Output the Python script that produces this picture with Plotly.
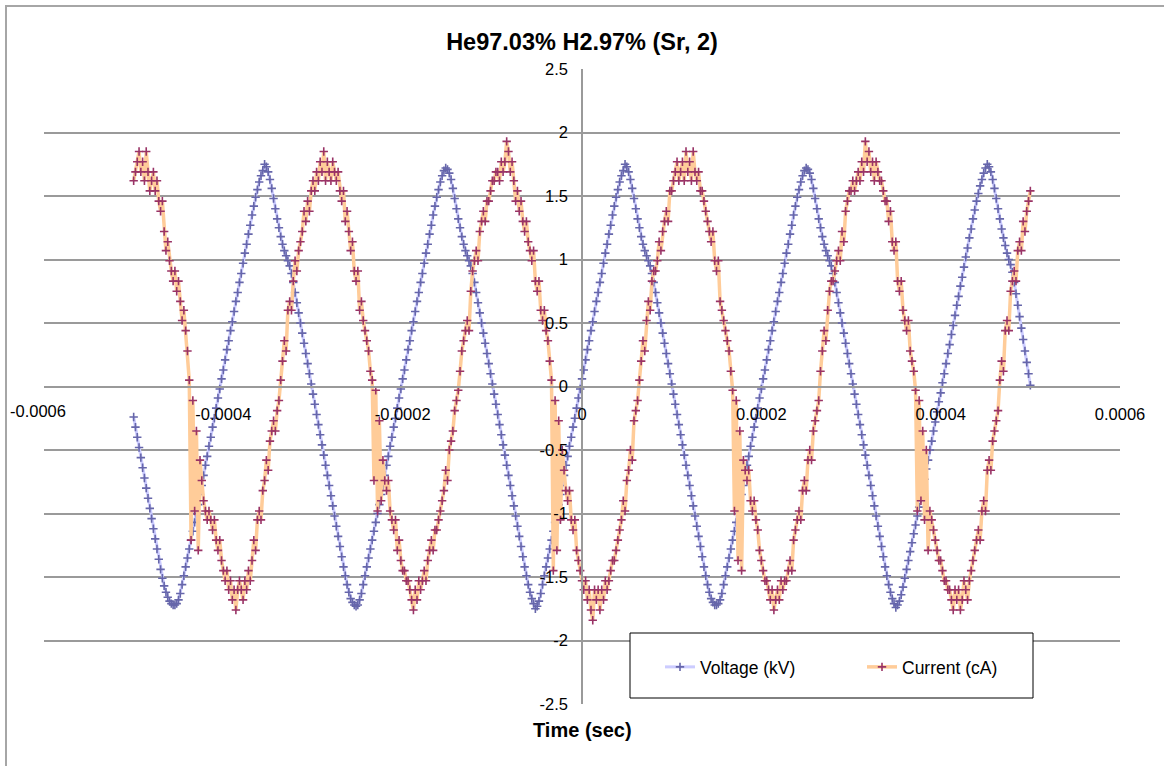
import plotly.graph_objects as go

# Sampling grid: 2 microsecond steps from -0.5 ms to +0.5 ms
t_start_s = -0.0005
t_step_s = 2e-6
n_samples = 501
time_s = [round(t_start_s + i * t_step_s, 9) for i in range(n_samples)]

# Discharge voltage (kV), one value per sample
voltage_kv = [
    # -500 .. -454 us
    -0.24, -0.32, -0.40, -0.48, -0.56, -0.64, -0.72, -0.80, -0.88, -0.96,
    -1.04, -1.12, -1.20, -1.28, -1.36, -1.44, -1.51, -1.57, -1.62, -1.66,
    -1.69, -1.71, -1.72, -1.72,
    # -452 .. -354 us
    -1.71, -1.68, -1.63, -1.56, -1.49, -1.42, -1.35, -1.28, -1.21, -1.14,
    -1.07, -1.00, -0.93, -0.85, -0.78, -0.70, -0.62, -0.55, -0.47, -0.40,
    -0.32, -0.25, -0.17, -0.09, -0.02, 0.06, 0.13, 0.21, 0.29, 0.36,
    0.44, 0.51, 0.59, 0.67, 0.74, 0.82, 0.89, 0.97, 1.05, 1.12,
    1.20, 1.27, 1.35, 1.42, 1.49, 1.55, 1.61, 1.66, 1.70, 1.75,
    # -352 .. -252 us
    1.73, 1.69, 1.63, 1.56, 1.48, 1.40, 1.32, 1.25, 1.18, 1.12,
    1.07, 1.03, 0.99, 0.95, 0.89, 0.82, 0.74, 0.66, 0.58, 0.50,
    0.42, 0.34, 0.26, 0.18, 0.10, 0.02, -0.06, -0.14, -0.22, -0.30,
    -0.38, -0.46, -0.54, -0.62, -0.70, -0.78, -0.86, -0.94, -1.02, -1.10,
    -1.18, -1.26, -1.34, -1.42, -1.49, -1.56, -1.62, -1.67, -1.70, -1.72,
    -1.73,
    # -250 .. -152 us
    -1.72, -1.68, -1.63, -1.56, -1.49, -1.42, -1.35, -1.28, -1.21, -1.14,
    -1.07, -1.00, -0.93, -0.85, -0.78, -0.70, -0.62, -0.55, -0.47, -0.40,
    -0.32, -0.25, -0.17, -0.09, -0.02, 0.06, 0.13, 0.21, 0.29, 0.36,
    0.44, 0.51, 0.59, 0.67, 0.74, 0.82, 0.89, 0.97, 1.05, 1.12,
    1.20, 1.27, 1.35, 1.42, 1.49, 1.55, 1.61, 1.66, 1.70, 1.72,
    # -150 .. -52 us
    1.71, 1.68, 1.63, 1.56, 1.48, 1.40, 1.32, 1.25, 1.18, 1.12,
    1.07, 1.03, 0.99, 0.95, 0.89, 0.82, 0.74, 0.66, 0.58, 0.50,
    0.42, 0.34, 0.26, 0.18, 0.10, 0.02, -0.06, -0.14, -0.22, -0.30,
    -0.38, -0.46, -0.54, -0.62, -0.70, -0.78, -0.86, -0.94, -1.02, -1.10,
    -1.18, -1.26, -1.34, -1.42, -1.49, -1.56, -1.62, -1.67, -1.71, -1.75,
    # -50 .. 48 us
    -1.73, -1.69, -1.63, -1.56, -1.49, -1.42, -1.35, -1.28, -1.21, -1.14,
    -1.07, -1.00, -0.93, -0.85, -0.78, -0.70, -0.62, -0.55, -0.47, -0.40,
    -0.32, -0.25, -0.17, -0.09, -0.02, 0.06, 0.13, 0.21, 0.29, 0.36,
    0.44, 0.51, 0.59, 0.67, 0.74, 0.82, 0.89, 0.97, 1.05, 1.12,
    1.20, 1.27, 1.35, 1.42, 1.49, 1.55, 1.61, 1.66, 1.70, 1.75,
    # 50 .. 150 us
    1.73, 1.69, 1.63, 1.56, 1.48, 1.40, 1.32, 1.25, 1.18, 1.12,
    1.07, 1.03, 0.99, 0.95, 0.89, 0.82, 0.74, 0.66, 0.58, 0.50,
    0.42, 0.34, 0.26, 0.18, 0.10, 0.02, -0.06, -0.14, -0.22, -0.30,
    -0.38, -0.46, -0.54, -0.62, -0.70, -0.78, -0.86, -0.94, -1.02, -1.10,
    -1.18, -1.26, -1.34, -1.42, -1.49, -1.56, -1.62, -1.67, -1.70, -1.72,
    -1.72,
    # 152 .. 250 us
    -1.71, -1.68, -1.63, -1.56, -1.49, -1.42, -1.35, -1.28, -1.21, -1.14,
    -1.07, -1.00, -0.93, -0.85, -0.78, -0.70, -0.62, -0.55, -0.47, -0.40,
    -0.32, -0.25, -0.17, -0.09, -0.02, 0.06, 0.13, 0.21, 0.29, 0.36,
    0.44, 0.51, 0.59, 0.67, 0.74, 0.82, 0.89, 0.97, 1.05, 1.12,
    1.20, 1.27, 1.35, 1.42, 1.49, 1.55, 1.61, 1.66, 1.70, 1.72,
    # 252 .. 350 us
    1.71, 1.68, 1.63, 1.56, 1.48, 1.40, 1.32, 1.25, 1.18, 1.12,
    1.07, 1.03, 0.99, 0.95, 0.89, 0.82, 0.74, 0.66, 0.58, 0.50,
    0.42, 0.34, 0.26, 0.18, 0.10, 0.02, -0.06, -0.14, -0.22, -0.30,
    -0.38, -0.46, -0.54, -0.62, -0.70, -0.78, -0.86, -0.94, -1.02, -1.10,
    -1.18, -1.26, -1.34, -1.42, -1.49, -1.56, -1.62, -1.67, -1.71, -1.74,
    # 352 .. 452 us
    -1.72, -1.69, -1.64, -1.58, -1.51, -1.44, -1.37, -1.30, -1.23, -1.16,
    -1.09, -1.02, -0.95, -0.88, -0.80, -0.73, -0.65, -0.58, -0.50, -0.43,
    -0.35, -0.28, -0.20, -0.12, -0.05, 0.03, 0.10, 0.18, 0.26, 0.33,
    0.41, 0.48, 0.56, 0.64, 0.71, 0.79, 0.86, 0.94, 1.02, 1.09,
    1.17, 1.24, 1.32, 1.39, 1.46, 1.52, 1.58, 1.63, 1.68, 1.72,
    1.75,
    # 454 .. 500 us
    1.73, 1.69, 1.63, 1.56, 1.48, 1.40, 1.32, 1.24, 1.17, 1.11,
    1.05, 1.00, 0.96, 0.90, 0.82, 0.73, 0.64, 0.55, 0.46, 0.37,
    0.28, 0.19, 0.10, 0.01,
]

# Discharge current (cA), one value per sample (rows of 20 us)
current_ca = [
    1.62, 1.69, 1.77, 1.85, 1.69, 1.77, 1.62, 1.85, 1.69, 1.54,   # -500
    1.62, 1.69, 1.54, 1.62, 1.46, 1.38, 1.46, 1.22, 1.07, 1.14,   # -480
    0.99, 0.91, 0.83, 0.91, 0.75, 0.83, 0.67, 0.52, 0.60, 0.44,   # -460
    0.28, 0.05, -1.21, -0.11, -0.98, -0.35, -1.29, -0.58, -0.74, -0.90,  # -440
    -0.98, -1.05, -0.98, -1.05, -1.13, -1.05, -1.21, -1.29, -1.21, -1.37,  # -420
    -1.45, -1.53, -1.45, -1.60, -1.53, -1.68, -1.60, -1.76, -1.60, -1.53,  # -400
    -1.60, -1.68, -1.53, -1.60, -1.45, -1.53, -1.37, -1.21, -1.29, -1.05,  # -380
    -0.98, -1.05, -0.82, -0.74, -0.58, -0.66, -0.43, -0.35, -0.27, -0.35,  # -360
    -0.19, -0.11, 0.05, 0.20, 0.36, 0.28, 0.60, 0.67, 0.60, 0.83,  # -340
    0.99, 0.91, 1.07, 1.14, 1.22, 1.38, 1.30, 1.46, 1.38, 1.54,   # -320
    1.62, 1.54, 1.69, 1.62, 1.77, 1.69, 1.85, 1.62, 1.77, 1.69,   # -300
    1.62, 1.77, 1.69, 1.62, 1.69, 1.54, 1.46, 1.54, 1.30, 1.38,   # -280
    1.22, 1.07, 1.14, 0.91, 0.83, 0.91, 0.60, 0.67, 0.52, 0.44,   # -260
    0.36, 0.28, 0.12, 0.05, -0.74, -0.03, -0.98, -0.27, -0.90, -0.58,  # -240
    -0.74, -0.82, -0.74, -0.98, -1.05, -1.13, -1.05, -1.29, -1.21, -1.37,  # -220
    -1.45, -1.45, -1.53, -1.53, -1.60, -1.68, -1.76, -1.60, -1.68, -1.53,  # -200
    -1.60, -1.53, -1.45, -1.53, -1.37, -1.29, -1.21, -1.29, -1.13, -1.13,  # -180
    -1.05, -0.98, -0.90, -0.82, -0.66, -0.74, -0.50, -0.43, -0.35, -0.19,  # -160
    -0.11, -0.03, 0.12, 0.28, 0.36, 0.44, 0.52, 0.44, 0.75, 0.91,  # -140
    0.99, 1.07, 0.99, 1.22, 1.30, 1.38, 1.30, 1.46, 1.46, 1.54,   # -120
    1.62, 1.62, 1.69, 1.69, 1.62, 1.77, 1.69, 1.77, 1.93, 1.85,   # -100
    1.69, 1.77, 1.62, 1.46, 1.54, 1.38, 1.46, 1.30, 1.22, 1.30,   # -80
    1.14, 1.07, 0.99, 1.07, 0.83, 0.75, 0.83, 0.60, 0.52, 0.60,   # -60
    0.44, 0.36, 0.20, 0.05, -1.45, -0.11, -1.29, -0.27, -1.05, -0.50,  # -40
    -0.66, -0.82, -0.90, -0.82, -1.05, -1.13, -1.05, -1.29, -1.37, -1.45,  # -20
    -1.53, -1.60, -1.53, -1.68, -1.60, -1.76, -1.84, -1.60, -1.68, -1.60,  # 0
    -1.76, -1.60, -1.68, -1.53, -1.60, -1.53, -1.45, -1.37, -1.37, -1.29,  # 20
    -1.21, -1.13, -1.05, -0.90, -0.98, -0.74, -0.66, -0.50, -0.58, -0.27,  # 40
    -0.19, -0.11, 0.05, 0.20, 0.36, 0.28, 0.52, 0.67, 0.60, 0.83,  # 60
    0.91, 0.91, 0.99, 1.14, 1.07, 1.22, 1.30, 1.38, 1.30, 1.54,   # 80
    1.54, 1.62, 1.69, 1.77, 1.62, 1.69, 1.77, 1.62, 1.85, 1.69,   # 100
    1.77, 1.62, 1.85, 1.69, 1.62, 1.69, 1.54, 1.54, 1.46, 1.38,   # 120
    1.30, 1.22, 1.14, 1.22, 0.99, 0.91, 0.99, 0.67, 0.60, 0.52,   # 140
    0.44, 0.36, 0.28, 0.12, -0.03, -0.98, -0.11, -1.37, -0.35, -1.45,  # 160
    -0.58, -0.66, -0.74, -0.66, -0.90, -0.98, -0.90, -1.05, -1.13, -1.29,  # 180
    -1.37, -1.45, -1.53, -1.53, -1.60, -1.68, -1.60, -1.76, -1.68, -1.60,  # 200
    -1.68, -1.53, -1.60, -1.53, -1.53, -1.45, -1.37, -1.45, -1.21, -1.13,  # 220
    -1.05, -0.98, -1.05, -0.82, -0.74, -0.82, -0.58, -0.50, -0.58, -0.35,  # 240
    -0.27, -0.19, -0.11, 0.12, 0.28, 0.44, 0.36, 0.60, 0.75, 0.83,  # 260
    0.83, 0.91, 0.99, 1.07, 0.99, 1.22, 1.14, 1.38, 1.46, 1.54,   # 280
    1.54, 1.62, 1.54, 1.62, 1.69, 1.62, 1.77, 1.69, 1.93, 1.77,   # 300
    1.85, 1.69, 1.77, 1.62, 1.77, 1.69, 1.62, 1.62, 1.54, 1.46,   # 320
    1.46, 1.30, 1.38, 1.14, 1.07, 1.14, 0.83, 0.75, 0.83, 0.60,   # 340
    0.52, 0.44, 0.52, 0.28, 0.20, 0.12, -0.03, -0.98, -0.11, -0.90,  # 360
    -0.35, -1.05, -0.50, -1.29, -0.98, -1.05, -1.13, -1.21, -1.29, -1.37,  # 380
    -1.37, -1.45, -1.53, -1.53, -1.60, -1.60, -1.68, -1.76, -1.60, -1.68,  # 400
    -1.60, -1.76, -1.68, -1.53, -1.60, -1.68, -1.53, -1.45, -1.37, -1.29,  # 420
    -1.21, -1.13, -1.21, -0.98, -0.90, -0.98, -0.66, -0.58, -0.66, -0.43,  # 440
    -0.35, -0.27, -0.19, 0.05, 0.20, 0.12, 0.44, 0.52, 0.44, 0.75,  # 460
    0.83, 0.91, 0.83, 1.07, 1.14, 1.07, 1.30, 1.22, 1.38, 1.46,   # 480
    1.54,                                                          # 500
]

assert len(voltage_kv) == n_samples, len(voltage_kv)
assert len(current_ca) == n_samples, len(current_ca)

x_tick_vals = [-0.0006, -0.0004, -0.0002, 0, 0.0002, 0.0004, 0.0006]
x_tick_text = ["-0.0006", "-0.0004", "-0.0002", "0", "0.0002", "0.0004", "0.0006"]
y_tick_vals = [-2.5, -2, -1.5, -1, -0.5, 0, 0.5, 1, 1.5, 2, 2.5]
y_tick_text = ["-2.5", "-2", "-1.5", "-1", "-0.5", "0", "0.5", "1", "1.5", "2", "2.5"]

W, H = 1164, 766
M_L, M_R, M_T, M_B = 44, 44, 69, 62
PW, PH = W - M_L - M_R, H - M_T - M_B

def px_x(px):
    return (px - M_L) / PW

def px_y(py):
    return (H - M_B - py) / PH

FONT = "Liberation Sans, Arial, sans-serif"
AXIS_GRAY = "#9a9a9a"

# the leftmost time label is nudged inward so it stays inside the frame
shown_x_text = [""] + x_tick_text[1:]

fig = go.Figure()
fig.add_trace(go.Scatter(
    x=time_s, y=voltage_kv, mode="lines+markers", name="Voltage (kV)",
    line=dict(color="rgb(204,204,255)", width=3),
    marker=dict(symbol="cross-thin", size=6,
                line=dict(width=1.6, color="rgb(102,102,170)")),
))
fig.add_trace(go.Scatter(
    x=time_s, y=current_ca, mode="lines+markers", name="Current (cA)",
    line=dict(color="rgb(255,204,153)", width=3.5),
    marker=dict(symbol="cross-thin", size=6,
                line=dict(width=1.6, color="rgb(153,51,102)")),
))

fig.update_layout(
    width=W, height=H,
    margin=dict(l=M_L, r=M_R, t=M_T, b=M_B),
    paper_bgcolor="white", plot_bgcolor="white",
    font=dict(family=FONT, size=16, color="black"),
    title=dict(text="<b>He97.03% H2.97% (Sr, 2)</b>", x=0.5, xanchor="center",
               y=1 - 42 / H, yanchor="middle", yref="container",
               font=dict(size=23.5, family=FONT, color="black")),
    xaxis=dict(range=[-0.0006, 0.0006], tickvals=x_tick_vals, ticktext=shown_x_text,
               showgrid=False, zeroline=False, showline=True, linecolor=AXIS_GRAY,
               linewidth=1.5, anchor="free", position=0.5, ticks="",
               ticklabelstandoff=13, tickfont=dict(size=16.5)),
    yaxis=dict(range=[-2.5, 2.5], tickvals=y_tick_vals, ticktext=y_tick_text,
               showgrid=True, gridcolor=AXIS_GRAY, gridwidth=1.5, zeroline=False,
               showline=True, linecolor=AXIS_GRAY, linewidth=1.5,
               anchor="free", position=0.5, ticks="", ticklabelstandoff=10,
               tickfont=dict(size=16.5)),
    showlegend=True,
    legend=dict(orientation="h", x=px_x(660), y=px_y(667), xanchor="left",
                yanchor="middle", bgcolor="rgba(0,0,0,0)", borderwidth=0,
                font=dict(size=17.5, family=FONT), entrywidth=157,
                entrywidthmode="pixels", itemwidth=30),
    shapes=[
        # chart frame (top and left edges visible)
        dict(type="rect", xref="paper", yref="paper",
             x0=px_x(6), x1=px_x(1200), y0=px_y(800), y1=px_y(6),
             line=dict(color="#a6a6a6", width=2), fillcolor="rgba(0,0,0,0)",
             layer="below"),
        # legend box
        dict(type="rect", xref="paper", yref="paper",
             x0=px_x(630), x1=px_x(1033), y0=px_y(698), y1=px_y(633),
             line=dict(color="black", width=1), fillcolor="white", layer="above"),
    ],
    annotations=[
        dict(text=x_tick_text[0], xref="paper", yref="paper",
             x=px_x(8), y=px_y(411), xanchor="left", yanchor="middle",
             showarrow=False, font=dict(size=16.5, family=FONT, color="black")),
        dict(text="<b>Time (sec)</b>", xref="paper", yref="paper",
             x=0.5, y=px_y(730), xanchor="center", yanchor="middle",
             showarrow=False, font=dict(size=20, family=FONT, color="black")),
    ],
)

fig.write_html("out.html")
